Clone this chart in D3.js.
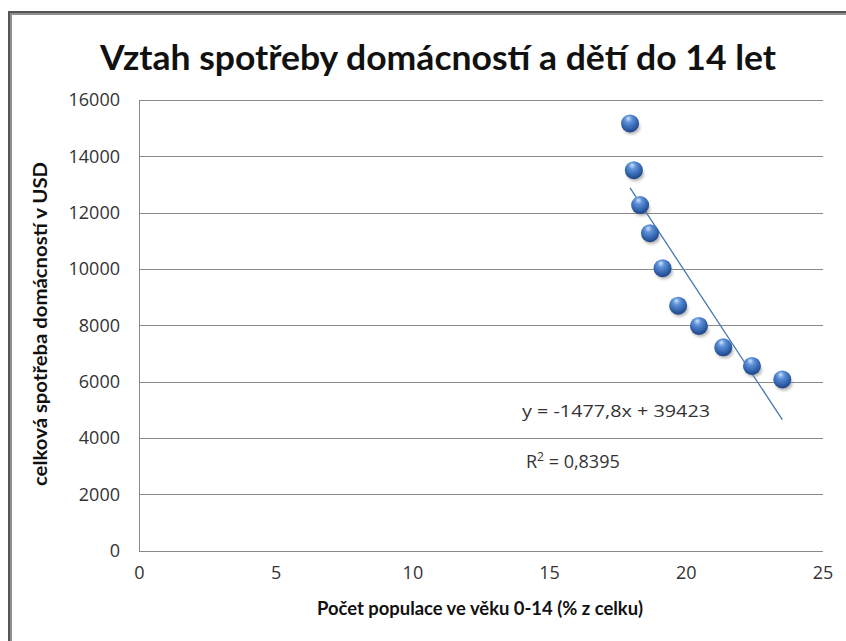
<!DOCTYPE html>
<html>
<head>
<meta charset="utf-8">
<style>
body { margin: 0; background: #fff; }
svg { display: block; font-family: Lato, "Open Sans", sans-serif; }
.axis text { font-size: 18px; fill: #333; font-family: "Open Sans", sans-serif; }
.axis line { stroke: #8a8a8a; }
.axis path { stroke: #8a8a8a; }
.label { font-weight: bold; fill: #111; }
</style>
</head>
<body>
<svg id="chart"></svg>
<script src="https://cdnjs.cloudflare.com/ajax/libs/d3/7.8.5/d3.min.js"></script>
<script>
// data
var xValues = [17.96, 18.1, 18.33, 18.69, 19.15, 19.72, 20.48, 21.37, 22.42, 23.53]
var yValues = [15170, 13510, 12270, 11270, 10030, 8700, 7980, 7220, 6560, 6080]
var xTicks = [0, 5, 10, 15, 20, 25]
var yTicks = [0, 2000, 4000, 6000, 8000, 10000, 12000, 14000, 16000]
var slope = -1477.8, intercept = 39423
var eqText = "y = -1477,8x + 39423"
var r2Text = "0,8395"

var W = 846, H = 641
var plotL = 139, plotR = 822.5, plotT = 100, plotB = 550.7

var svg = d3.select("#chart").attr("width", W).attr("height", H)

// frame (left + top only, like the cropped chart object)
svg.append("path").attr("d", "M9," + H + "V12H" + W).attr("fill", "none")
   .attr("stroke", "#555").attr("stroke-width", 2)
svg.append("path").attr("d", "M11," + H + "V14H" + W).attr("fill", "none")
   .attr("stroke", "#8f8f8f").attr("stroke-width", 2)

var x = d3.scaleLinear().domain([0, 25]).range([plotL, plotR])
var y = d3.scaleLinear().domain([0, 16000]).range([plotB, plotT])

// y axis with gridlines
var yAxis = d3.axisLeft(y).tickValues(yTicks).tickFormat(d3.format("d"))
    .tickSizeInner(-(plotR - plotL)).tickSizeOuter(0).tickPadding(19)
svg.append("g").attr("class", "axis y")
   .attr("transform", "translate(" + plotL + ",0)")
   .call(yAxis)
svg.selectAll(".axis.y .tick text").attr("x", -19)

var xAxis = d3.axisBottom(x).tickValues(xTicks).tickFormat(d3.format("d"))
    .tickSize(0).tickPadding(16)
svg.append("g").attr("class", "axis x")
   .attr("transform", "translate(0," + plotB + ")")
   .call(xAxis)
svg.selectAll(".axis line, .axis path").attr("shape-rendering", "crispEdges")

// title
svg.append("text").attr("class", "label")
   .attr("x", 438).attr("y", 70).attr("text-anchor", "middle")
   .attr("font-size", 35).attr("textLength", 676).attr("lengthAdjust", "spacingAndGlyphs")
   .text("Vztah spotřeby domácností a dětí do 14 let")

svg.append("text").attr("class", "label")
   .attr("x", 480).attr("y", 615).attr("text-anchor", "middle")
   .attr("font-size", 18).attr("textLength", 326).attr("lengthAdjust", "spacingAndGlyphs")
   .text("Počet populace ve věku 0-14 (% z celku)")

svg.append("text").attr("class", "label")
   .attr("transform", "translate(47,324) rotate(-90)").attr("text-anchor", "middle")
   .attr("font-size", 18).attr("textLength", 324).attr("lengthAdjust", "spacingAndGlyphs")
   .text("celková spotřeba domácností v USD")

// trendline over the data range
var xMin = d3.min(xValues), xMax = d3.max(xValues)
svg.append("line")
   .attr("x1", x(xMin)).attr("y1", y(slope * xMin + intercept))
   .attr("x2", x(xMax)).attr("y2", y(slope * xMax + intercept))
   .attr("stroke", "#4a76ae").attr("stroke-width", 1.3)

// sphere markers
var defs = svg.append("defs")
var grad = defs.append("radialGradient").attr("id", "ball")
   .attr("cx", "45%").attr("cy", "35%").attr("r", "65%").attr("fx", "40%").attr("fy", "22%")
grad.append("stop").attr("offset", "0%").attr("stop-color", "#cfe3fb")
grad.append("stop").attr("offset", "30%").attr("stop-color", "#5f93da")
grad.append("stop").attr("offset", "70%").attr("stop-color", "#3566b0")
grad.append("stop").attr("offset", "100%").attr("stop-color", "#1d4585")
var blur = defs.append("filter").attr("id", "shadow").attr("x", "-50%").attr("y", "-50%")
   .attr("width", "200%").attr("height", "200%")
blur.append("feGaussianBlur").attr("stdDeviation", 1.6)

var pts = xValues.map(function (v, i) { return { x: v, y: yValues[i] } })

svg.selectAll("ellipse.shadow").data(pts).enter().append("ellipse")
   .attr("class", "shadow")
   .attr("cx", d => x(d.x) + 1.5).attr("cy", d => y(d.y) + 4)
   .attr("rx", 8.5).attr("ry", 7).attr("fill", "#777").attr("opacity", 0.55)
   .attr("filter", "url(#shadow)")

svg.selectAll("circle.pt").data(pts).enter().append("circle")
   .attr("class", "pt")
   .attr("cx", d => x(d.x)).attr("cy", d => y(d.y)).attr("r", 9)
   .attr("fill", "url(#ball)")

// equation labels
svg.append("text").attr("x", 522).attr("y", 417)
   .attr("font-family", "'Open Sans', sans-serif").attr("font-size", 17).attr("fill", "#333")
   .attr("textLength", 188).attr("lengthAdjust", "spacingAndGlyphs")
   .text(eqText)
var r2 = svg.append("text").attr("x", 526).attr("y", 468)
   .attr("font-family", "'Open Sans', sans-serif").attr("font-size", 18).attr("fill", "#333")
r2.append("tspan").text("R")
r2.append("tspan").attr("font-size", 12).attr("dy", -7).text("2")
r2.append("tspan").attr("dy", 7).text(" = " + r2Text)
</script>
</body>
</html>
